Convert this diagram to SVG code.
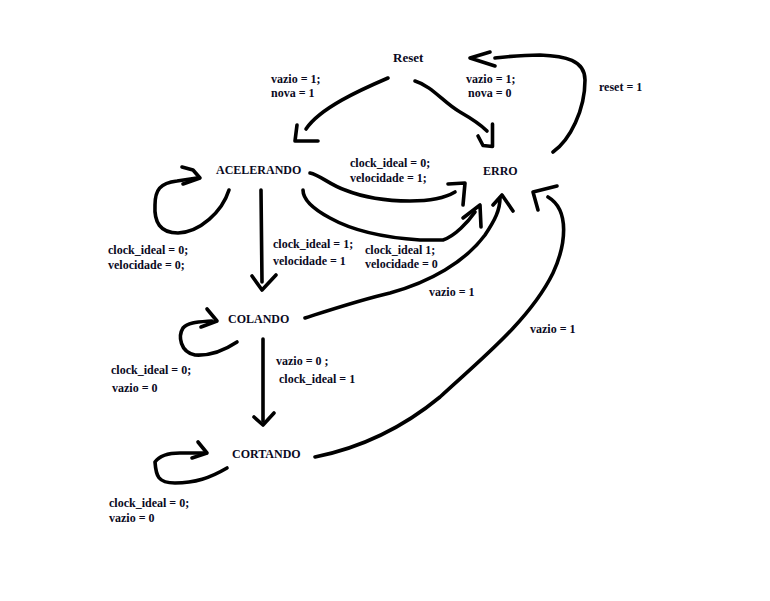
<svg xmlns="http://www.w3.org/2000/svg" width="770" height="601" viewBox="0 0 770 601">
<style>
text{font-family:"Liberation Serif","Times New Roman",serif;font-weight:bold;font-size:12px;fill:#0a0a1e}
.s{fill:none;stroke:#000;stroke-width:3.6;stroke-linecap:round;stroke-linejoin:round}
</style>
<rect width="770" height="601" fill="#fff"/>
<g id="connectors">
<g id="e-reset-acel"><path class="s" d="M388,78 C360,90 320,108 306,129"/><path class="s" d="M297,125 L295,141 L318,141"/></g>
<g id="e-reset-erro"><path class="s" d="M415,81 C432,86 445,104 460,112 C474,120 482,126 487,131"/><path class="s" d="M492.5,124 L492.5,146.5 L483,145.5 L478,136"/></g>
<g id="e-erro-reset"><path class="s" d="M553,152 C570,140 585,110 585,80 C585,60 565,56 540,55 C520,55 505,57 495,58"/><path class="s" d="M490,52 L470,58 L495,66"/></g>
<g id="e-acel-loop"><path class="s" d="M229,190 C222,212 200,232 178,233 C160,233 154,222 155,205 C155,190 160,183 177,181 L197,178"/><path class="s" d="M182,167 L193,170 L200,178 L183,184"/></g>
<g id="e-acel-colando"><path class="s" d="M261,190 L262,282"/><path class="s" d="M252,276 L262,290 L276,275"/></g>
<g id="e-acel-erro-1"><path class="s" d="M310,173 C320,175 330,185 345,190 C365,198 390,201 410,201 C430,201 445,198 455,192"/><path class="s" d="M448,184 L465,183 L463,205"/></g>
<g id="e-acel-erro-2"><path class="s" d="M303,190 C303,200 315,210 330,218 C355,232 390,238 420,240 L443,240 C455,236 468,222 475,212"/><path class="s" d="M463,218 L480,205 L481,227"/></g>
<g id="e-colando-erro"><path class="s" d="M305,318 C330,310 360,300 390,293 C430,282 465,262 485,235 C495,220 500,210 500,198"/><path class="s" d="M493,205 L502,195 L513,211"/></g>
<g id="e-cortando-erro"><path class="s" d="M315,457 C360,448 400,430 440,397 C480,360 530,320 553,273 C566,245 570,210 548,197"/><path class="s" d="M557,186 L533,192 L538,210"/></g>
<g id="e-colando-loop"><path class="s" d="M237,342 C225,350 210,356 195,355 C180,352 178,336 183,328 C188,322 198,322 212,321"/><path class="s" d="M207,309 L217,321 L201,327"/></g>
<g id="e-colando-cortando"><path class="s" d="M263,339 L263,421"/><path class="s" d="M254,417 L263,425 L274,413"/></g>
<g id="e-cortando-loop"><path class="s" d="M227,468 C210,478 195,483 175,483 C158,483 156,476 155,462 C160,455 170,453 180,453 L206,453"/><path class="s" d="M198,442 L207,453 L192,458"/></g>
</g>
<g id="labels">
<text x="271" y="83">vazio = 1;</text><text x="271" y="96.5">nova = 1</text>
<text x="466" y="83">vazio = 1;</text><text x="468" y="96.5">nova = 0</text>
<text x="599" y="91">reset = 1</text>
<text x="350" y="167">clock_ideal = 0;</text><text x="350" y="182">velocidade = 1;</text>
<text x="108" y="254">clock_ideal = 0;</text><text x="108" y="269">velocidade = 0;</text>
<text x="273" y="248">clock_ideal = 1;</text><text x="273" y="265">velocidade = 1</text>
<text x="365" y="254">clock_ideal 1;</text><text x="365" y="268">velocidade = 0</text>
<text x="429" y="296">vazio = 1</text>
<text x="530" y="333">vazio = 1</text>
<text x="276" y="365">vazio = 0 ;</text><text x="279" y="383">clock_ideal = 1</text>
<text x="111" y="374">clock_ideal = 0;</text><text x="112" y="392">vazio = 0</text>
<text x="109" y="507">clock_ideal = 0;</text><text x="109" y="522">vazio = 0</text>
</g>
<g id="Reset"><text x="393" y="62" style="font-size:13px">Reset</text></g>
<g id="ACELERANDO"><text x="216" y="174">ACELERANDO</text></g>
<g id="ERRO"><text x="483" y="175">ERRO</text></g>
<g id="COLANDO"><text x="228" y="323">COLANDO</text></g>
<g id="CORTANDO"><text x="232" y="458">CORTANDO</text></g>
</svg>
